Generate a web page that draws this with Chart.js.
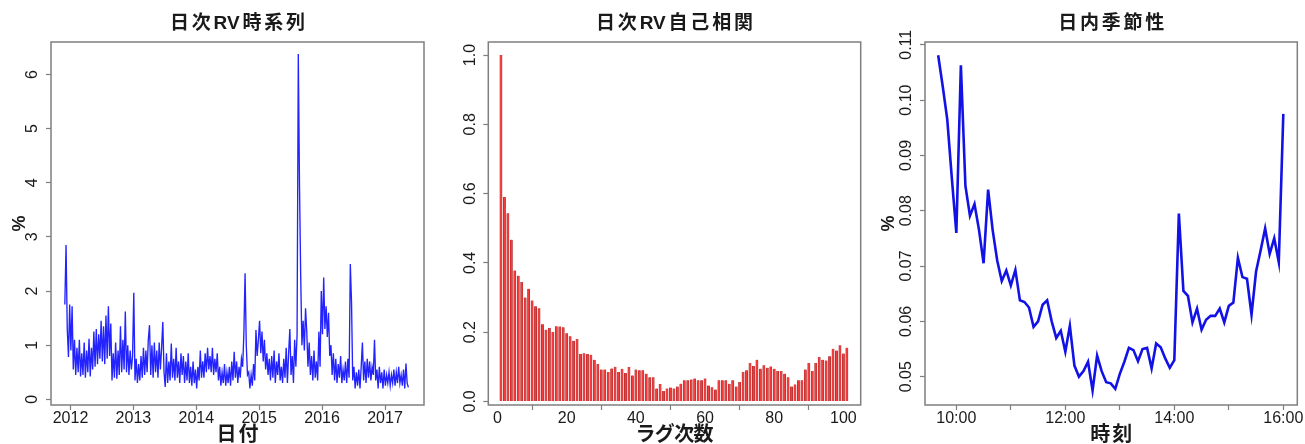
<!DOCTYPE html>
<html><head><meta charset="utf-8">
<script src="https://cdn.jsdelivr.net/npm/chart.js@4.4.1/dist/chart.umd.min.js"></script>
<style>
html,body{margin:0;padding:0;background:#fff;}
#wrap{position:relative;width:1305px;height:444px;overflow:hidden;background:#fff;}
canvas{position:absolute;top:0;}
</style></head><body>
<div id="wrap">
<canvas id="c1" width="440" height="444" style="left:0px"></canvas>
<canvas id="c2" width="430" height="444" style="left:440px"></canvas>
<canvas id="c3" width="435" height="444" style="left:870px"></canvas>
</div>
<script>
// ---------- Panel 1: daily RV (%), weekly readings from late 2011 ----------
const rvStartYear = 2011.91;
const rvStepYears = 1 / 52;
const rvValues = [
1.75,2.85,1.3,0.78,1.75,0.9,1.72,0.55,1.1,0.45,
0.95,0.5,1.1,0.42,0.85,0.45,1.05,0.4,0.9,0.5,
1.12,0.42,0.95,0.55,1.25,0.6,1.3,0.65,1.2,0.75,
1.45,0.7,1.35,0.65,1.55,0.75,1.72,0.8,1.4,0.35,
0.85,0.4,1.05,0.38,0.9,0.45,1.35,0.5,1.1,0.55,
1.62,0.5,1.0,0.45,0.9,0.55,0.8,1.97,0.35,0.75,
0.3,0.65,0.35,0.8,0.4,0.95,0.45,0.9,0.5,1.1,
1.37,0.45,1.0,0.4,1.05,0.5,0.9,0.4,1.05,0.55,
0.95,1.43,0.5,0.23,0.85,0.3,0.7,0.35,1.03,0.4,
0.75,0.35,0.95,0.4,0.7,0.3,0.85,0.45,0.8,0.3,
0.7,0.35,0.85,0.3,0.6,0.25,0.7,0.3,0.55,0.2,
0.6,0.35,0.9,0.4,0.7,0.4,0.85,0.5,0.95,0.55,
0.8,0.5,0.95,0.45,0.75,0.5,0.85,0.35,0.6,0.25,
0.5,0.3,0.65,0.25,0.5,0.3,0.6,0.25,0.7,0.35,
0.88,0.4,0.7,0.3,0.6,0.4,0.75,0.6,1.2,2.33,
1.0,0.45,0.5,0.2,0.45,0.25,0.65,0.35,1.28,0.8,
1.1,1.45,0.85,1.25,0.7,1.1,0.55,0.85,0.45,0.75,
0.35,0.8,0.4,0.9,0.3,0.7,0.45,0.85,0.35,0.6,
0.3,0.75,0.4,0.95,0.3,0.85,1.3,0.45,0.8,0.3,
1.1,0.6,1.2,6.38,3.95,2.25,1.0,1.45,0.9,1.68,
1.25,0.6,1.05,0.45,0.8,0.35,0.9,0.4,0.7,0.35,
1.25,0.6,2.0,1.2,2.25,1.3,1.72,1.15,1.6,0.8,
1.0,0.45,0.85,0.35,0.75,0.3,0.65,0.4,0.8,0.3,
0.55,0.35,0.7,0.3,0.75,0.4,2.5,1.8,0.35,0.6,
0.2,0.5,0.25,0.55,0.2,0.6,1.05,0.35,0.7,0.3,
0.75,0.4,0.7,0.35,0.6,0.45,1.1,0.35,0.55,0.2,
0.6,0.3,0.5,0.2,0.55,0.25,0.45,0.3,0.5,0.25,
0.45,0.3,0.55,0.25,0.5,0.3,0.6,0.3,0.45,0.25,
0.55,0.2,0.66,0.3,0.22
];
const rvYearTicks = [2012, 2013, 2014, 2015, 2016, 2017];

// ---------- Panel 2: autocorrelation of daily RV, index 1..101 ----------
const acfValues = [
1.0,0.590,0.543,0.467,0.378,0.363,0.345,0.300,0.325,0.291,
0.275,0.269,0.223,0.207,0.212,0.200,0.217,0.216,0.214,0.197,
0.188,0.175,0.180,0.137,0.139,0.137,0.135,0.120,0.108,0.092,
0.092,0.085,0.095,0.100,0.085,0.094,0.082,0.099,0.075,0.092,
0.090,0.090,0.080,0.070,0.070,0.037,0.050,0.030,0.037,0.040,
0.037,0.043,0.051,0.061,0.061,0.063,0.066,0.061,0.061,0.066,
0.046,0.041,0.034,0.061,0.061,0.061,0.051,0.061,0.043,0.056,
0.085,0.090,0.111,0.102,0.120,0.094,0.104,0.097,0.101,0.094,
0.088,0.088,0.080,0.070,0.043,0.049,0.061,0.061,0.092,0.111,
0.088,0.111,0.128,0.120,0.118,0.130,0.152,0.147,0.162,0.138,
0.155
];
const acfLagTicks = [0, 20, 40, 60, 80, 100];

// ---------- Panel 3: intraday seasonality (%), 5-minute bins from 9:40 ----------
const seasStartMinute = 580;   // 9:40
const seasStepMinutes = 5;
const seasValues = [
0.1081,0.1025,0.0965,0.0860,0.0760,0.1063,0.0845,0.0791,0.0812,0.0765,
0.0705,0.0838,0.0765,0.0710,0.0673,0.0692,0.0665,0.0693,0.0638,0.0635,
0.0625,0.0590,0.0600,0.0630,0.0638,0.0600,0.0570,0.0583,0.0545,0.0592,
0.0520,0.0500,0.0510,0.0527,0.0475,0.0538,0.0510,0.0490,0.0488,0.0478,
0.0505,0.0527,0.0552,0.0548,0.0528,0.0550,0.0552,0.0515,0.0560,0.0553,
0.0533,0.0516,0.0530,0.0795,0.0655,0.0646,0.0598,0.0623,0.0585,0.0603,
0.0610,0.0610,0.0623,0.0598,0.0628,0.0634,0.0715,0.0680,0.0677,0.0612,
0.0690,0.0728,0.0768,0.0722,0.0750,0.0707,0.0975
];
const seasHourTicks = ['10:00', '12:00', '14:00', '16:00'];

const titles = ['日次RV時系列', '日次RV自己相関', '日内季節性'];
const xTitles = ['日付', 'ラグ次数', '時刻'];
const yTitles = ['%', '', '%'];

// ---------- helpers ----------
const LATIN = '"Liberation Sans", Arial, "Noto Sans CJK JP", sans-serif';
const CJK = '"Liberation Sans", "Noto Sans CJK JP", sans-serif';
const BOX = '#7f7f7f';
const TXT = '#1a1a1a';

// spread text to a target width; runs of Latin letters stay together
function drawSpaced(ctx, text, cx, cy, targetW) {
  const toks = text.match(/[A-Za-z0-9]+|./gu);
  const ws = toks.map(c => ctx.measureText(c).width);
  const nat = ws.reduce((a, b) => a + b, 0);
  const gap = toks.length > 1 ? (targetW - nat) / (toks.length - 1) : 0;
  let x = cx - targetW / 2;
  ctx.textAlign = 'left';
  toks.forEach((c, i) => { ctx.fillText(c, x, cy); x += ws[i] + gap; });
}

function panelPlugin(cfg) {
  return {
    id: 'panelText',
    afterDraw(chart) {
      const ctx = chart.ctx, ca = chart.chartArea;
      const xs = chart.scales.x, ys = chart.scales.y;
      ctx.save();
      ctx.strokeStyle = BOX; ctx.lineWidth = 1.5;
      ctx.strokeRect(ca.left, ca.top, ca.right - ca.left, ca.bottom - ca.top);
      ctx.fillStyle = TXT;
      ctx.font = '16px ' + LATIN;
      ys.ticks.forEach(t => {
        const py = ys.getPixelForValue(t.value);
        ctx.save();
        ctx.translate(ca.left - 18, py);
        ctx.rotate(-Math.PI / 2);
        ctx.textAlign = 'center'; ctx.textBaseline = 'middle';
        ctx.fillText(cfg.yFmt(t.value), 0, 0);
        ctx.restore();
      });
      ctx.textBaseline = 'alphabetic'; ctx.textAlign = 'center';
      xs.ticks.forEach(t => {
        const lab = cfg.xFmt(t.value);
        if (!lab) return;
        ctx.fillText(lab, xs.getPixelForValue(t.value), 422.5);
      });
      const cx = (ca.left + ca.right) / 2;
      ctx.font = 'bold 19px ' + CJK;
      ctx.textBaseline = 'middle';
      drawSpaced(ctx, cfg.title, cx, 24, cfg.titleW);
      ctx.font = 'bold 20px ' + CJK;
      drawSpaced(ctx, cfg.xTitle, cx, 435, cfg.xTitleW);
      if (cfg.yTitle) {
        ctx.save();
        ctx.translate(ca.left - cfg.yTitleOff, (ca.top + ca.bottom) / 2);
        ctx.rotate(-Math.PI / 2);
        ctx.font = 'bold 18px ' + LATIN;
        ctx.textAlign = 'center'; ctx.textBaseline = 'middle';
        ctx.fillText(cfg.yTitle, 0, 0);
        ctx.restore();
      }
      ctx.restore();
    }
  };
}

function axisGrid() {
  return { display: true, drawOnChartArea: false, drawTicks: true, tickLength: 5, tickColor: BOX, tickWidth: 1.2, color: BOX };
}

function baseOptions(o) {
  return {
    responsive: false, animation: false, devicePixelRatio: 1,
    layout: { padding: { top: 42, right: o.padRight, left: 0, bottom: 0 } },
    plugins: { legend: { display: false }, tooltip: { enabled: false }, title: { display: false } },
    scales: {
      x: {
        type: 'linear', min: o.xMin, max: o.xMax, offset: false,
        border: { display: false },
        grid: axisGrid(),
        ticks: { display: false, stepSize: o.xStep, includeBounds: false },
        afterFit(s) { s.height = 39; }
      },
      y: {
        type: 'linear', min: o.yMin, max: o.yMax,
        border: { display: false },
        grid: axisGrid(),
        ticks: { display: false, stepSize: o.yStep, includeBounds: false },
        afterFit(s) { s.width = o.yWidth; }
      }
    }
  };
}

// Panel 1
new Chart(document.getElementById('c1'), {
  type: 'line',
  data: { datasets: [{
    data: rvValues.map((v, i) => ({ x: rvStartYear + i * rvStepYears, y: v })),
    borderColor: '#2323ff', borderWidth: 1.35, pointRadius: 0, tension: 0, fill: false
  }] },
  options: baseOptions({ padRight: 16, yWidth: 51, xMin: 2011.69, xMax: 2017.62, xStep: 1, yMin: -0.105, yMax: 6.6, yStep: 1 }),
  plugins: [panelPlugin({
    title: titles[0], titleW: 135, xTitle: xTitles[0], xTitleW: 42, yTitle: yTitles[0], yTitleOff: 31,
    yFmt: v => String(Math.round(v)),
    xFmt: v => rvYearTicks.includes(Math.round(v)) ? String(Math.round(v)) : ''
  })]
});

// Panel 2
new Chart(document.getElementById('c2'), {
  type: 'bar',
  data: { datasets: [{
    data: acfValues.map((v, i) => ({ x: i + 1, y: v })),
    backgroundColor: '#f43c3c', borderColor: '#a32a2a', borderWidth: { left: 0.6, right: 0.6, top: 0, bottom: 0 },
    barThickness: 2.3, borderSkipped: false
  }] },
  options: baseOptions({ padRight: 9.3, yWidth: 48.3, xMin: -2.66, xMax: 105.0, xStep: 20, yMin: -0.0104, yMax: 1.0376, yStep: 0.2 }),
  plugins: [panelPlugin({
    title: titles[1], titleW: 157, xTitle: xTitles[1], xTitleW: 78, yTitle: yTitles[1], yTitleOff: 31,
    yFmt: v => v.toFixed(1),
    xFmt: v => acfLagTicks.includes(Math.round(v)) ? String(Math.round(v)) : ''
  })]
});

// Panel 3
new Chart(document.getElementById('c3'), {
  type: 'line',
  data: { datasets: [{
    data: seasValues.map((v, i) => ({ x: seasStartMinute + i * seasStepMinutes, y: v })),
    borderColor: '#1212e6', borderWidth: 2.6, pointRadius: 0, tension: 0, fill: false
  }] },
  options: baseOptions({ padRight: 7.7, yWidth: 55, xMin: 565.5, xMax: 975.4, xStep: 60, yMin: 0.04488, yMax: 0.1105, yStep: 0.01 }),
  plugins: [panelPlugin({
    title: titles[2], titleW: 106, xTitle: xTitles[2], xTitleW: 42, yTitle: yTitles[2], yTitleOff: 36,
    yFmt: v => v.toFixed(2),
    xFmt: v => { const lab = Math.round(v / 60) + ':00'; return seasHourTicks.includes(lab) ? lab : ''; }
  })]
});
</script>
</body></html>
